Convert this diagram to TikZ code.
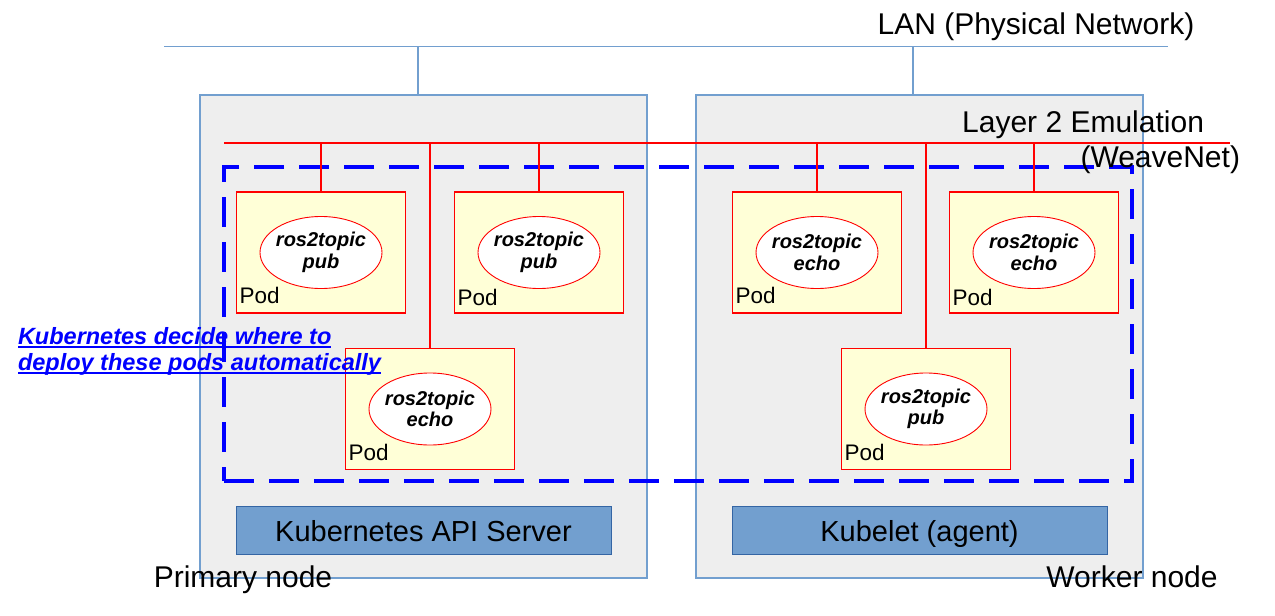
\documentclass[tikz,border=0pt]{standalone}
\usepackage{fontspec}
\setmainfont{Liberation Sans}
\usetikzlibrary{shapes.geometric}
\definecolor{hostline}{HTML}{729FCF}
\definecolor{hostfill}{HTML}{EEEEEE}
\definecolor{podfill}{HTML}{FFFFD7}
\definecolor{apifill}{HTML}{729FCF}
\definecolor{apiline}{HTML}{3465A4}
\definecolor{wirered}{HTML}{FF0000}
\begin{document}
\begin{tikzpicture}[x=1pt,y=-1pt,
  every node/.style={inner sep=0pt, outer sep=0pt},
  host/.style={draw=hostline, fill=hostfill, line width=1.2pt, minimum width=447pt, minimum height=483pt},
  pod/.style={draw=wirered, fill=podfill, line width=1.8pt, minimum width=169pt, minimum height=121pt},
  proc/.style={ellipse, draw=wirered, fill=white, line width=0.9pt, inner sep=-6pt, minimum width=122pt, minimum height=72pt, align=center, font=\fontsize{20}{21.5}\selectfont\bfseries\itshape},
  podlabel/.style={anchor=base west, font=\fontsize{22.5}{27}\selectfont},
  big/.style={font=\fontsize{30}{36}\selectfont},
  svc/.style={draw=apiline, fill=apifill, line width=1pt, minimum width=375pt, minimum height=48pt, text height=21pt, text depth=0pt, font=\fontsize{29}{34}\selectfont},
  lan/.style={draw=hostline, line width=1.4pt},
  bus/.style={draw=wirered, line width=2pt},
  cluster/.style={draw=blue, line width=4.5pt, dash pattern=on 30pt off 15pt, minimum width=908pt, minimum height=314pt},
  note/.style={anchor=base west, text=blue, font=\fontsize{23.5}{27}\selectfont\bfseries\itshape},
  noteline/.style={draw=blue, line width=1.5pt},
]
\useasboundingbox (0,0) rectangle (1275,616);

% LAN
\coordinate (lanL) at (164,46.5);
\coordinate (lanR) at (1168,46.5);
\coordinate (lanA) at (418,46.5);
\coordinate (lanB) at (913,46.5);
\draw[lan] (lanL) -- (lanR);
\node[big, anchor=base] (lanlabel) at (1036,34) {LAN (Physical Network)};

% hosts
\node[host] (primary) at (423.5,336.5) {};
\node[host] (worker) at (919.5,336.5) {};
\draw[lan] (lanA) -- (lanA |- primary.north);
\draw[lan] (lanB) -- (lanB |- worker.north);

% pods
\node[pod] (p1) at (321,252.5) {};
\node[pod] (p2) at (539,252.5) {};
\node[pod] (p3) at (430,409) {};
\node[pod] (p4) at (817,252.5) {};
\node[pod] (p5) at (1034,252.5) {};
\node[pod] (p6) at (926,409) {};

\node[proc] (e1) at (p1.center) {ros2topic\\pub};
\node[proc] (e2) at (p2.center) {ros2topic\\pub};
\node[proc] (e3) at (p3.center) {ros2topic\\echo};
\node[proc] (e4) at (p4.center) {ros2topic\\echo};
\node[proc] (e5) at (p5.center) {ros2topic\\echo};
\node[proc] (e6) at (p6.center) {ros2topic\\pub};

\node[podlabel] (l1) at ([xshift=3pt,yshift=10pt]p1.south west) {Pod};
\node[podlabel] (l2) at ([xshift=3pt,yshift=8pt]p2.south west) {Pod};
\node[podlabel] (l3) at ([xshift=3pt,yshift=9pt]p3.south west) {Pod};
\node[podlabel] (l4) at ([xshift=3pt,yshift=10pt]p4.south west) {Pod};
\node[podlabel] (l5) at ([xshift=3pt,yshift=8pt]p5.south west) {Pod};
\node[podlabel] (l6) at ([xshift=3pt,yshift=9pt]p6.south west) {Pod};

% note
\node[note] (n1) at (18,344) {Kubernetes decide where to};
\node[note] (n2) at (18,370) {deploy these pods automatically};
\draw[noteline] ([yshift=-3pt]n1.base west) -- ([yshift=-3pt]n1.base east);
\draw[noteline] ([yshift=-3pt]n2.base west) -- ([yshift=-3pt]n2.base east);

% cluster boundary
\node[cluster] (cluster) at (678,324) {};

% layer 2 bus
\coordinate (busL) at (224,143);
\coordinate (busR) at (1230,143);
\draw[bus] (busL) -- (busR);
\draw[bus] (p1.north) -- (p1.north |- busL);
\draw[bus] (p2.north) -- (p2.north |- busL);
\draw[bus] (p3.north) -- (p3.north |- busL);
\draw[bus] (p4.north) -- (p4.north |- busL);
\draw[bus] (p5.north) -- (p5.north |- busL);
\draw[bus] (p6.north) -- (p6.north |- busL);
\node[big, anchor=base east] (l2emu) at (1204,132) {Layer 2 Emulation};
\node[big, anchor=base east] (weave) at (1240,167) {(WeaveNet)};

% services
\node[svc] (api) at (423.5,530.5) {Kubernetes API Server};
\node[svc] (kubelet) at (919.5,530.5) {Kubelet (agent)};

% host labels
\node[big, anchor=base] (plabel) at (243,587) {Primary node};
\node[big, anchor=base] (wlabel) at (1132,587) {Worker node};
\end{tikzpicture}
\end{document}
